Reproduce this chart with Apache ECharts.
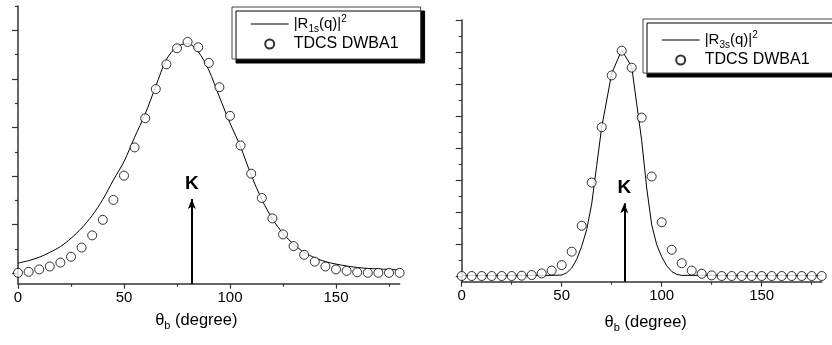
<!DOCTYPE html>
<html>
<head>
<meta charset="utf-8">
<script src="https://cdn.jsdelivr.net/npm/echarts@6/dist/echarts.min.js"></script>
<style>html,body{margin:0;padding:0;background:#fff}#c{width:832px;height:345px}</style>
</head>
<body>
<div id="c"></div>
<script>
// ---------- data ----------
const angles = [0,5,10,15,20,25,30,35,40,45,50,55,60,65,70,75,80,85,90,95,100,105,110,115,120,125,130,135,140,145,150,155,160,165,170,175,180];

// left panel: |R1s(q)|^2 curve and TDCS DWBA1 points (arbitrary units)
const curve1s = [0.21,0.26,0.33,0.43,0.55,0.72,0.93,1.19,1.52,1.92,2.30,2.80,3.28,3.85,4.40,4.66,4.73,4.56,4.18,3.63,3.09,2.60,2.02,1.52,1.12,0.82,0.60,0.43,0.32,0.24,0.19,0.15,0.12,0.10,0.09,0.08,0.07];
const tdcs1s = [0.01,0.03,0.08,0.14,0.22,0.34,0.53,0.78,1.10,1.51,2.01,2.59,3.19,3.79,4.30,4.63,4.76,4.65,4.33,3.83,3.24,2.63,2.05,1.55,1.13,0.80,0.56,0.38,0.24,0.14,0.08,0.05,0.02,0.01,0.01,0.01,0.01];

// right panel: |R3s(q)|^2 curve and TDCS DWBA1 points
const curve3sAngles = [0,45,50,52.5,55,57.5,60,62.5,65,67.5,70,75,80,85,90,92.5,95,97.5,100,102.5,105,107.5,110,180];
const curve3s = [0.02,0.02,0.03,0.10,0.25,0.52,0.93,1.45,2.25,3.45,4.65,6.33,7.06,6.54,4.23,2.75,1.60,0.98,0.60,0.32,0.14,0.05,0.02,0.02];
const tdcs3s = [0,0,0,0,0,0,0.01,0.03,0.08,0.17,0.34,0.76,1.57,2.92,4.65,6.27,7.04,6.51,4.95,3.11,1.68,0.82,0.40,0.17,0.07,0.02,0,0,0,0,0,0,0,0,0,0,0];

// momentum transfer direction K (arrow)
const kAngle1 = 82, kTip1 = 1.53;
const kAngle2 = 81.3, kTip2 = 2.27;

// axis ticks
const xMajor = [0,50,100,150];
const xMinor = [25,75,125,175];
const yMajor1 = [0,1,2,3,4,5];
const yMinor1 = [0.5,1.5,2.5,3.5,4.5,5.5];
const yMajor2 = [0,1,2,3,4,5,6,7,8];
const yMinor2 = [0.5,1.5,2.5,3.5,4.5,5.5,6.5,7.5];
const yRange1 = [-0.214, 5.5];
const yRange2 = [-0.178, 8];

// ---------- chart ----------
const FONT = '"Liberation Sans", Arial, Helvetica, sans-serif';
const AX = '#333';

function mkX(grid, major, namePad) {
  return {
    type: 'value', gridIndex: grid, min: 0, max: 180, position: 'bottom', offset: 0,
    axisLine: { show: major, onZero: false, lineStyle: { color: AX, width: 1.5 } },
    axisTick: { show: true, inside: false, length: major ? 5 : 3, customValues: major ? xMajor : xMinor, lineStyle: { color: AX, width: 1.2 } },
    axisLabel: { show: major, customValues: xMajor, margin: 7, fontSize: 15, color: '#000', fontFamily: FONT },
    splitLine: { show: false },
    name: major ? '{t|θ}{b|b}{t| (degree)}' : '',
    nameLocation: 'middle', nameGap: grid === 0 ? 26 : 30,
    nameTextStyle: {
      fontFamily: FONT, fontSize: 16.5, color: '#000', padding: namePad,
      rich: { t: { fontFamily: FONT, fontSize: 16.5, lineHeight: 22, color: '#000' },
              b: { fontFamily: FONT, fontSize: 11, lineHeight: 8, verticalAlign: 'bottom', color: '#000' } }
    }
  };
}
function mkY(grid, major, range, ticks) {
  return {
    type: 'value', gridIndex: grid, min: range[0], max: range[1], position: 'left', offset: 0,
    axisLine: { show: major, onZero: false, lineStyle: { color: AX, width: 1.5 } },
    axisTick: { show: true, inside: false, length: major ? 6 : 3, customValues: ticks, lineStyle: { color: AX, width: 1.2 } },
    axisLabel: { show: false },
    splitLine: { show: false }
  };
}

const legendNames = {
  'R1s': '{m||R}{s|1s}{m|(q)|}{p|2}',
  'R3s': '{m||R}{s|3s}{m|(q)|}{p|2}',
  'TDCS1': '{n|TDCS DWBA1}',
  'TDCS3': '{n|TDCS DWBA1}'
};
const legendRich = {
  m: { fontFamily: FONT, fontSize: 15, lineHeight: 20, color: '#000' },
  s: { fontFamily: FONT, fontSize: 10, lineHeight: 10, verticalAlign: 'bottom', color: '#000' },
  p: { fontFamily: FONT, fontSize: 10, lineHeight: 10, verticalAlign: 'top', color: '#000' },
  n: { fontFamily: FONT, fontSize: 16, lineHeight: 20, color: '#000' }
};
const LINE_ICON = 'path://M0,0H380V12H0Z';
function mkLegend(names, left, top, padding) {
  return {
    data: [{ name: names[0], icon: LINE_ICON }, { name: names[1] }],
    orient: 'vertical', left: left, top: top, align: 'left',
    itemWidth: 38, itemHeight: 9, itemGap: 2, padding: padding,
    backgroundColor: '#fff', borderColor: '#444', borderWidth: 1, borderRadius: 0,
    shadowColor: '#000', shadowBlur: 0, shadowOffsetX: 4, shadowOffsetY: 4,
    selectedMode: false,
    formatter: n => legendNames[n],
    textStyle: { fontFamily: FONT, fontSize: 15, color: '#000', rich: legendRich }
  };
}
function arrow(angle, tip, ybottom) {
  return {
    silent: true, animation: false,
    symbol: ['none', 'arrow'], symbolSize: 10,
    lineStyle: { type: 'solid', color: '#000', width: 2 },
    label: { show: true, position: 'end', formatter: 'K', distance: 6, fontFamily: FONT, fontWeight: 'bold', fontSize: 19, color: '#000' },
    emphasis: { disabled: true },
    data: [[{ coord: [angle, ybottom], symbol: 'none' }, { coord: [angle, tip], symbol: 'arrow', symbolSize: [6, 10] }]]
  };
}

const chart = echarts.init(document.getElementById('c'), null, { renderer: 'canvas' });
chart.setOption({
  animation: false,
  backgroundColor: '#fff',
  grid: [
    { left: 18, top: 6, width: 381.6, height: 277.7 },
    { left: 461.7, top: 20, width: 360, height: 261.7 }
  ],
  xAxis: [mkX(0, true, [0, 25, 0, 0]), mkX(0, false), mkX(1, true, [0, 0, 0, 8]), mkX(1, false)],
  yAxis: [mkY(0, true, yRange1, yMajor1), mkY(0, false, yRange1, yMinor1), mkY(1, true, yRange2, yMajor2), mkY(1, false, yRange2, yMinor2)],
  legend: [
    mkLegend(['R1s', 'TDCS1'], 232, 7, [7, 22, 7, 18.7]),
    mkLegend(['R3s', 'TDCS3'], 643, 19, [11, 80, 5, 18.7])
  ],
  series: [
    { name: 'R1s', type: 'line', xAxisIndex: 0, yAxisIndex: 0, smooth: 0.3, symbol: 'none', showSymbol: false,
      lineStyle: { color: '#000', width: 1 }, itemStyle: { color: '#000' }, z: 2,
      data: angles.map((a, i) => [a, curve1s[i]]),
      markLine: arrow(kAngle1, kTip1, yRange1[0]) },
    { name: 'TDCS1', type: 'scatter', xAxisIndex: 0, yAxisIndex: 0, symbol: 'circle', symbolSize: 9,
      itemStyle: { color: '#fff', borderColor: '#000', borderWidth: 1 }, z: 3,
      data: angles.map((a, i) => [a, tdcs1s[i]]) },
    { name: 'R3s', type: 'line', xAxisIndex: 2, yAxisIndex: 2, smooth: false, symbol: 'none', showSymbol: false,
      lineStyle: { color: '#000', width: 1 }, itemStyle: { color: '#000' }, z: 2,
      data: curve3sAngles.map((a, i) => [a, curve3s[i]]),
      markLine: arrow(kAngle2, kTip2, yRange2[0]) },
    { name: 'TDCS3', type: 'scatter', xAxisIndex: 2, yAxisIndex: 2, symbol: 'circle', symbolSize: 9,
      itemStyle: { color: '#fff', borderColor: '#000', borderWidth: 1 }, z: 3,
      data: angles.map((a, i) => [a, tdcs3s[i]]) }
  ]
});
</script>
</body>
</html>
